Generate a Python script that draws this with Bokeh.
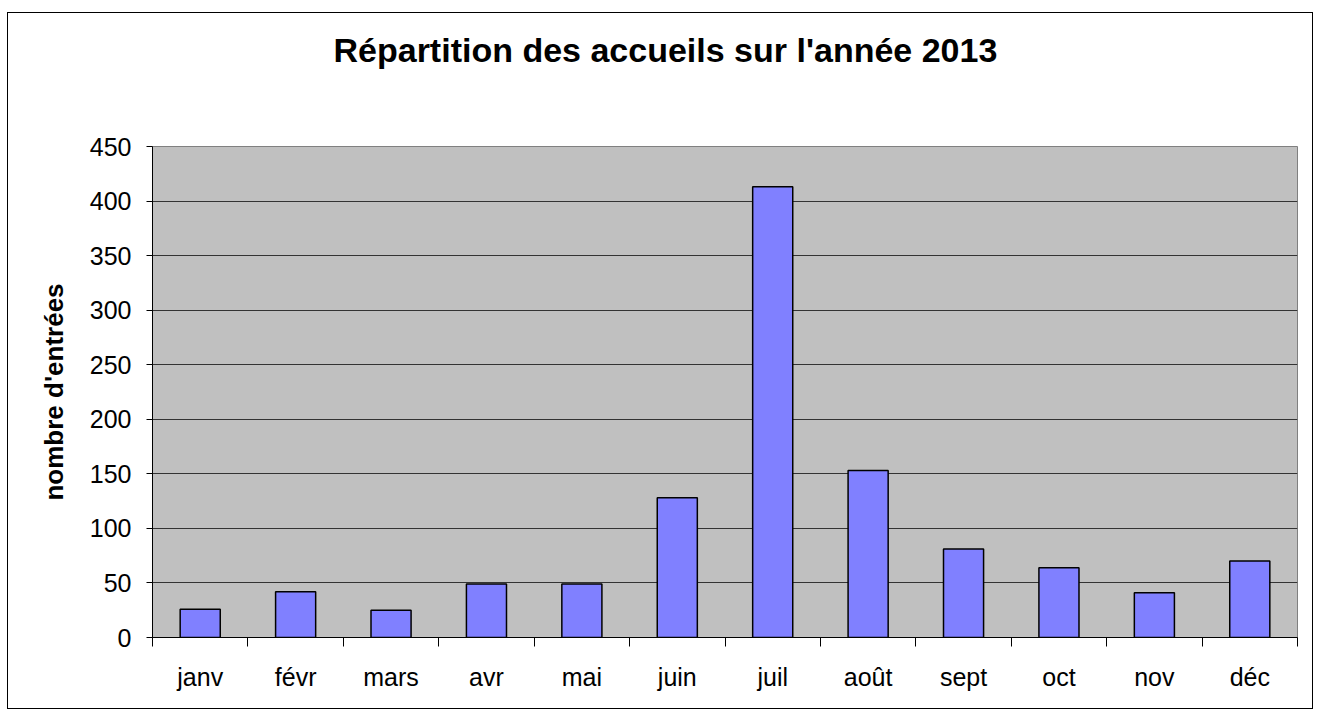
from bokeh.plotting import figure
from bokeh.models import Range1d, FixedTicker, Title
from bokeh.embed import file_html
from bokeh.resources import INLINE

# ---- data ----
months = ["janv", "févr", "mars", "avr", "mai", "juin",
          "juil", "août", "sept", "oct", "nov", "déc"]
entries = [26, 42, 25, 49, 49, 128, 413, 153, 81, 64, 41, 70]
y_ticks = [0, 50, 100, 150, 200, 250, 300, 350, 400, 450]
title_text = "Répartition des accueils sur l'année 2013"
y_label = "nombre d'entrées"

FONT = "Liberation Sans"

n = len(months)
centers = [i + 0.5 for i in range(n)]
bounds = list(range(n + 1))

FRAME_H = 492
TOP = 132
BOTTOM = 73
p = figure(width=1306, height=TOP + FRAME_H + BOTTOM, output_backend="svg",
           toolbar_location=None, title=None,
           x_range=Range1d(0, n), y_range=Range1d(0, y_ticks[-1]),
           min_border_left=144, min_border_right=17, min_border_top=TOP,
           min_border_bottom=BOTTOM)
p.styles = {"margin-top": "12px", "margin-left": "7px",
            "border": "1px solid #000", "box-sizing": "border-box"}

p.background_fill_color = "#C0C0C0"
p.border_fill_color = "white"
p.outline_line_color = "#808080"
p.outline_line_width = 1

p.vbar(x=centers, top=entries, width=0.42, fill_color="#8080FF",
       line_color="black", line_width=1.5)

# spacer between plot area and title (empty text)
spacer = Title(text=" ", text_font_size="10px", standoff=46, text_color="white")
p.add_layout(spacer, "above")

# real title
main_title = Title(text=title_text, align="left", vertical_align="top",
                   text_font=FONT, text_font_size="34px", text_font_style="bold",
                   text_color="black", standoff=34, offset=181)
p.add_layout(main_title, "above")

# x axis
xa = p.xaxis[0]
xa.ticker = FixedTicker(ticks=centers, minor_ticks=bounds)
xa.major_label_overrides = {c: m for c, m in zip(centers, months)}
xa.major_tick_out = 0
xa.major_tick_in = 0
xa.minor_tick_out = 9
xa.minor_tick_in = 0
xa.minor_tick_line_color = "black"
xa.axis_line_color = "black"
xa.major_label_text_font = FONT
xa.major_label_text_font_size = "25px"
xa.major_label_text_color = "black"
xa.major_label_standoff = 16

# y axis
ya = p.yaxis[0]
ya.ticker = FixedTicker(ticks=y_ticks, minor_ticks=[])
ya.major_tick_out = 6
ya.major_tick_in = 0
ya.major_tick_line_color = "black"
ya.axis_line_color = "black"
ya.major_label_text_font = FONT
ya.major_label_text_font_size = "25px"
ya.major_label_text_color = "black"
ya.major_label_standoff = 15
ya.axis_label = y_label
ya.axis_label_text_font = FONT
ya.axis_label_text_font_size = "26px"
ya.axis_label_text_font_style = "bold"
ya.axis_label_text_color = "black"
ya.axis_label_standoff = 18

p.xgrid.grid_line_color = None
p.ygrid.grid_line_color = "#333333"
p.ygrid.grid_line_width = 1

open("out.html", "w").write(file_html(p, INLINE))
